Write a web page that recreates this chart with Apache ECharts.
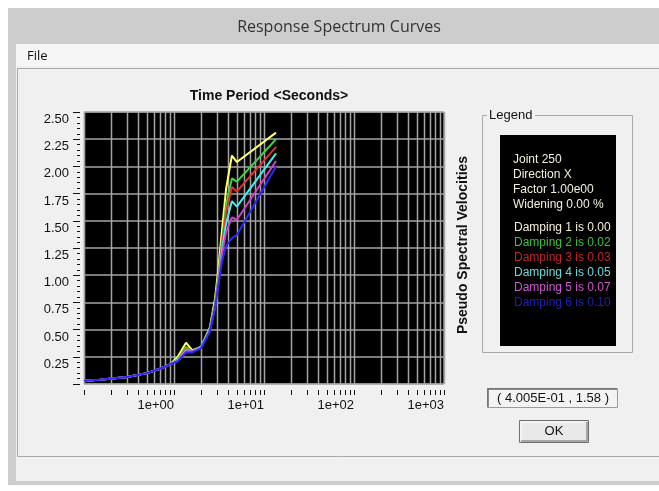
<!DOCTYPE html>
<html>
<head>
<meta charset="utf-8">
<script src="https://cdn.jsdelivr.net/npm/echarts@6/dist/echarts.min.js"></script>
<style>
html,body{margin:0;padding:0;background:#fff;}
#chart{width:659px;height:491px;}
</style>
</head>
<body>
<div id="chart"></div>
<script>
// ---- data ----
const periods = [0.1, 0.15, 0.3, 0.5, 0.7, 0.9, 1.1, 1.36, 1.6, 2.0, 2.5, 2.85, 3.1, 3.4, 3.8, 4.4, 5.0, 13.6];
const damping1 = [0.03, 0.04, 0.065, 0.10, 0.14, 0.18, 0.25, 0.38, 0.31, 0.34, 0.52, 0.78, 1.05, 1.40, 1.80, 2.10, 2.04, 2.31];
const damping2 = [0.03, 0.04, 0.065, 0.10, 0.14, 0.18, 0.23, 0.34, 0.30, 0.34, 0.51, 0.74, 0.98, 1.30, 1.65, 1.89, 1.86, 2.25];
const damping3 = [0.03, 0.04, 0.065, 0.10, 0.14, 0.18, 0.22, 0.32, 0.30, 0.34, 0.50, 0.72, 0.95, 1.26, 1.58, 1.81, 1.77, 2.18];
const damping4 = [0.03, 0.04, 0.065, 0.10, 0.14, 0.18, 0.22, 0.31, 0.30, 0.34, 0.50, 0.71, 0.93, 1.22, 1.48, 1.68, 1.63, 2.12];
const damping5 = [0.03, 0.04, 0.065, 0.10, 0.14, 0.18, 0.21, 0.30, 0.30, 0.33, 0.49, 0.70, 0.91, 1.18, 1.40, 1.53, 1.51, 2.05];
const damping6 = [0.03, 0.04, 0.065, 0.10, 0.14, 0.18, 0.21, 0.29, 0.29, 0.33, 0.48, 0.69, 0.90, 1.12, 1.27, 1.34, 1.37, 2.00];
const seriesNames = ['Damping 1 is 0.00', 'Damping 2 is 0.02', 'Damping 3 is 0.03', 'Damping 4 is 0.05', 'Damping 5 is 0.07', 'Damping 6 is 0.10'];
const seriesValues = [damping1, damping2, damping3, damping4, damping5, damping6];
const lineColors = ['#ffff70', '#3fd23f', '#e53030', '#40f0f0', '#d040d0', '#2828ff'];
const legendTextColors = ['#f4f0d8', '#3fc040', '#c02828', '#70d8d8', '#d058d0', '#2020b8'];
const headerLines = ['Joint 250', 'Direction X', 'Factor 1.00e00', 'Widening 0.00 %'];
const xGridValues = [0.1,0.2,0.3,0.4,0.5,0.6,0.7,0.8,0.9,
  1,2,3,4,5,6,7,8,9,
  10,20,30,40,50,60,70,80,90,
  100,200,300,400,500,600,700,800,900,1000];
const yMin = 0, yMax = 2.5, yStep = 0.25;
const xMin = 0.1, xMax = 1000;
const readout = '( 4.005E-01 , 1.58 )';

const chart = echarts.init(document.getElementById('chart'), null, {renderer: 'canvas'});

const lineSeries = seriesNames.map((name, i) => ({
  name: name,
  type: 'line',
  data: periods.map((t, k) => [t, seriesValues[i][k]]),
  showSymbol: false,
  symbol: 'none',
  smooth: false,
  z: 3 + i,
  lineStyle: {color: lineColors[i], width: 2},
  itemStyle: {color: lineColors[i]},
  silent: true,
  animation: false
}));

const gridSeries = {
  type: 'custom',
  coordinateSystem: 'cartesian2d',
  silent: true,
  clip: false,
  z: 2,
  animation: false,
  data: xGridValues.map(v => [v, yMin]),
  renderItem: function (params, api) {
    const v = api.value(0);
    const b = api.coord([v, yMin]);
    const t = api.coord([v, yMax]);
    const x = Math.round(b[0]) + 0.5;
    return {
      type: 'group',
      children: [
        {type: 'line', shape: {x1: x, y1: t[1], x2: x, y2: b[1]}, style: {stroke: '#a4a4a4', lineWidth: 1.5}},
        {type: 'line', shape: {x1: x, y1: b[1] + 6, x2: x, y2: b[1] + 11}, style: {stroke: '#111', lineWidth: 1}}
      ]
    };
  }
};

function expLabel(v) {
  const e = Math.round(Math.log10(v));
  return '1e' + (e < 0 ? '-' : '+') + String(Math.abs(e)).padStart(2, '0');
}

const bgZ = -10;
const graphics = [
  {type: 'rect', z: bgZ, shape: {x: 0, y: 0, width: 659, height: 491}, style: {fill: '#ffffff'}},
  {type: 'rect', z: bgZ, shape: {x: 8, y: 8, width: 651, height: 477}, style: {fill: '#cdcdcd'}},
  {type: 'rect', z: bgZ, shape: {x: 16, y: 44, width: 643, height: 437}, style: {fill: '#f0f0f0'}},
  {type: 'rect', z: bgZ, shape: {x: 16, y: 44, width: 643, height: 22}, style: {fill: '#f6f6f6'}},
  {type: 'rect', z: bgZ, shape: {x: 17.5, y: 68.5, width: 660, height: 388}, style: {fill: '#f0f0f0', stroke: '#a8a8a8', lineWidth: 1}},
  {type: 'text', z: bgZ + 1, style: {x: 339, y: 27, text: 'Response Spectrum Curves', font: '16px "Open Sans"', fill: '#333', align: 'center', verticalAlign: 'middle'}},
  {type: 'text', z: bgZ + 1, style: {x: 27, y: 56, text: 'File', font: '13px "Open Sans"', fill: '#111', align: 'left', verticalAlign: 'middle'}},
  // y-axis title on the right
  {type: 'text', z: 10, x: 463, y: 245, rotation: Math.PI / 2, style: {x: 0, y: 0, text: 'Pseudo Spectral Velocities', font: 'bold 14px "Liberation Sans"', fill: '#111', align: 'center', verticalAlign: 'middle'}},
  // legend group box
  {type: 'rect', z: bgZ + 1, shape: {x: 482.5, y: 115.5, width: 150, height: 237}, style: {fill: 'none', stroke: '#a8a8a8', lineWidth: 1}},
  {type: 'rect', z: bgZ + 2, shape: {x: 487, y: 108, width: 48, height: 14}, style: {fill: '#f0f0f0'}},
  {type: 'text', z: bgZ + 3, style: {x: 489, y: 115, text: 'Legend', font: '13px "Liberation Sans"', fill: '#111', align: 'left', verticalAlign: 'middle'}},
  {type: 'rect', z: bgZ + 3, shape: {x: 500, y: 135, width: 116, height: 211}, style: {fill: '#000'}},
  // readout box
  {type: 'rect', z: bgZ + 1, shape: {x: 487.5, y: 388.5, width: 130, height: 19}, style: {fill: '#f3f3f3', stroke: '#9a9a9a', lineWidth: 1}},
  {type: 'polyline', z: bgZ + 2, shape: {points: [[488, 407], [488, 389], [617, 389]]}, style: {stroke: '#6a6a6a', lineWidth: 1.5, fill: null}},
  {type: 'text', z: bgZ + 3, style: {x: 553, y: 398, text: readout, font: '13px "Liberation Sans"', fill: '#111', align: 'center', verticalAlign: 'middle'}},
  // OK button
  {type: 'rect', z: bgZ + 1, shape: {x: 519.5, y: 420.5, width: 69, height: 22}, style: {fill: '#e9e9e9', stroke: '#6f6f6f', lineWidth: 1}},
  {type: 'polyline', z: bgZ + 2, shape: {points: [[521, 441], [521, 422], [587, 422]]}, style: {stroke: '#ffffff', lineWidth: 1, fill: null}},
  {type: 'polyline', z: bgZ + 2, shape: {points: [[521, 441], [587, 441], [587, 422]]}, style: {stroke: '#909090', lineWidth: 1.5, fill: null}},
  {type: 'text', z: bgZ + 3, style: {x: 554, y: 431, text: 'OK', font: '13px "Liberation Sans"', fill: '#111', align: 'center', verticalAlign: 'middle'}}
];
headerLines.forEach((s, i) => {
  graphics.push({type: 'text', z: bgZ + 4, style: {x: 513, y: 160 + i * 15, text: s, font: '12px "Liberation Sans"', fill: '#f4f0d8', align: 'left', verticalAlign: 'middle'}});
});

const option = {
  animation: false,
  backgroundColor: 'transparent',
  title: {
    text: 'Time Period <Seconds>',
    left: 264,
    top: 84,
    textAlign: 'center',
    textStyle: {fontFamily: 'Liberation Sans', fontWeight: 'bold', fontSize: 14, color: '#111'}
  },
  legend: {
    data: seriesNames.map((n, i) => ({name: n, textStyle: {color: legendTextColors[i]}})),
    orient: 'vertical',
    left: 509,
    top: 222,
    padding: 0,
    itemWidth: 0,
    itemHeight: 0,
    itemGap: 3,
    icon: 'none',
    selectedMode: false,
    textStyle: {fontFamily: 'Liberation Sans', fontSize: 12, padding: 0},
    z: 20
  },
  grid: {
    left: 84, top: 112, width: 360, height: 272,
    show: true, backgroundColor: '#000', borderColor: '#c8c8c8', borderWidth: 1,
    containLabel: false
  },
  xAxis: {
    type: 'log',
    logBase: 10,
    min: xMin,
    max: xMax,
    axisLine: {show: false},
    axisTick: {show: false},
    splitLine: {show: false},
    minorTick: {show: false},
    axisLabel: {
      formatter: expLabel,
      showMinLabel: false,
      align: 'right',
      margin: 15,
      fontFamily: 'Liberation Sans',
      fontSize: 13,
      color: '#111'
    }
  },
  yAxis: {
    type: 'value',
    min: yMin,
    max: yMax,
    interval: yStep,
    offset: 4,
    axisLine: {show: false},
    axisTick: {show: true, length: 7, lineStyle: {color: '#111', width: 1}},
    minorTick: {show: true, splitNumber: 5, length: 3, lineStyle: {color: '#111', width: 1}},
    splitLine: {show: true, lineStyle: {color: '#a4a4a4', width: 1.5}},
    axisLabel: {
      formatter: v => v.toFixed(2),
      showMinLabel: false,
      margin: 11,
      verticalAlign: 'top',
      padding: [1, 0, 0, 0],
      fontFamily: 'Liberation Sans',
      fontSize: 13,
      color: '#111'
    }
  },
  graphic: graphics,
  series: [gridSeries].concat(lineSeries)
};
chart.setOption(option);
</script>
</body>
</html>
